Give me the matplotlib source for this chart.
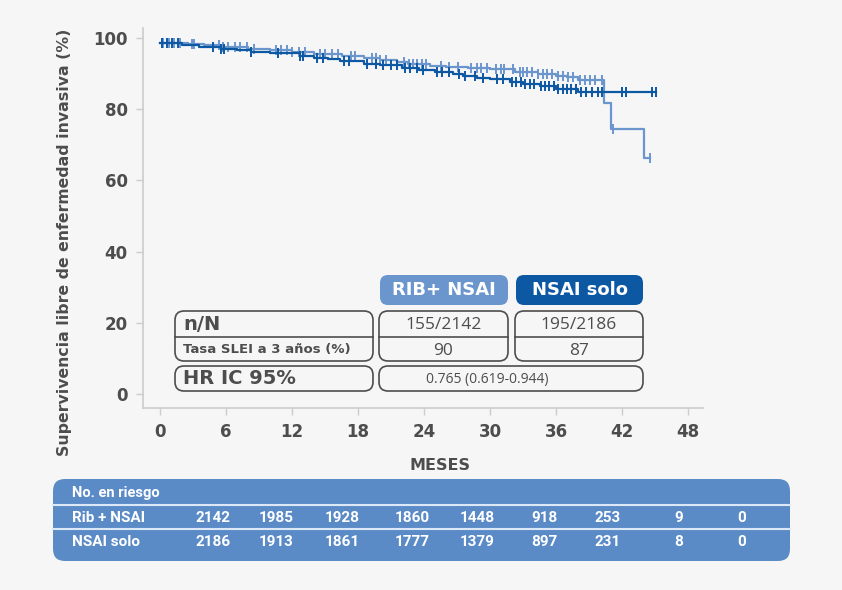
import matplotlib
matplotlib.use("Agg")
import matplotlib.pyplot as plt
from matplotlib.patches import FancyBboxPatch
import numpy as np

# Kaplan-Meier steps (months, % free of invasive disease)
rib_times = [0, 2.5, 4, 5.5, 8, 10, 12, 14, 16.5, 18.5, 20, 21.5, 22.5, 24.5, 26, 28, 30,
             32.3, 34.4, 36, 37, 38, 40.4, 41.0, 44.0, 44.5]
rib_surv = [98.7, 98.2, 97.9, 97.5, 97.0, 96.5, 96.1, 95.4, 94.8, 94.3, 93.9, 93.3, 92.8,
            92.2, 91.8, 91.5, 91.2, 90.5, 89.8, 89.2, 88.9, 88.3, 81.7, 74.4, 66.3, 66.3]
nsai_times = [0, 2.0, 3.5, 5.5, 7, 8.3, 10, 12.7, 14, 15.3, 16.4, 18.5, 20, 22, 23.5, 25,
              26.6, 27.5, 28.8, 30, 31.8, 33, 34.5, 36, 38, 45.1]
nsai_surv = [98.5, 97.9, 97.5, 96.9, 96.5, 96.1, 95.8, 95.0, 94.5, 94.0, 93.6, 92.8, 92.3,
             91.5, 91.0, 90.5, 89.9, 89.4, 88.8, 88.4, 87.7, 87.2, 86.4, 85.8, 84.8, 84.8]

rib_cens = [0.3, 0.8, 1.3, 1.8, 2.9, 3.1, 5.4, 5.7, 6.2, 6.8, 7.3, 7.9, 8.5, 10.5, 11.0, 11.5,
            12.0, 12.6, 13.2, 14.5, 15.0, 15.6, 16.2, 17.4, 17.7, 19.3, 19.6, 20.0, 20.5, 22.2,
            22.6, 23.0, 23.4, 23.8, 24.2, 25.5, 26.3, 27.1, 28.3, 28.8, 29.2, 29.7, 30.5, 31.0,
            31.3, 32.1, 32.7, 33.0, 33.4, 33.8, 34.4, 34.8, 35.2, 35.6, 36.2, 36.6, 37.1, 37.5,
            38.2, 38.6, 39.1, 39.5, 40.2, 41.2, 44.5]
nsai_cens = [0.2, 0.6, 1.1, 1.6, 4.8, 5.5, 5.8, 8.3, 10.7, 12.7, 13.0, 14.3, 14.8, 16.7, 17.2,
             18.8, 19.6, 20.3, 21.0, 21.5, 22.3, 22.7, 23.4, 23.9, 25.2, 25.6, 26.3, 27.2, 27.7,
             28.6, 29.4, 30.6, 31.2, 32.0, 32.4, 32.8, 33.2, 33.6, 34.0, 34.6, 35.0, 35.4, 35.8,
             36.2, 36.6, 37.0, 37.4, 37.8, 38.3, 38.7, 39.3, 39.8, 40.2, 42.0, 42.4, 44.7, 45.1]

x_ticks = [0, 6, 12, 18, 24, 30, 36, 42, 48]
y_ticks = [0, 20, 40, 60, 80, 100]

groups = ["RIB+ NSAI", "NSAI solo"]
n_over_N = ["155/2142", "195/2186"]
rate_3y = ["90", "87"]
hr_text = "0.765 (0.619-0.944)"

risk_labels = ["Rib + NSAI", "NSAI solo"]
risk_rib = [2142, 1985, 1928, 1860, 1448, 918, 253, 9, 0]
risk_nsai = [2186, 1913, 1861, 1777, 1379, 897, 231, 8, 0]

light = "#6b96cd"
dark = "#0d58a3"
grey = "#4d4d4d"
bg = "#f6f6f6"
table_blue = "#5b8bc7"

fig = plt.figure(figsize=(8.42, 5.90), dpi=100, facecolor=bg)
W, H = 842, 590

ax = fig.add_axes([143 / W, 1 - 408 / H, 560 / W, 380 / H], facecolor=bg)


def surv_at(t, times, surv):
    i = np.searchsorted(times, t, side="right") - 1
    return surv[max(i, 0)]


for times, surv, cens, col, z in [(rib_times, rib_surv, rib_cens, light, 2),
                                   (nsai_times, nsai_surv, nsai_cens, dark, 3)]:
    ax.step(times, surv, where="post", color=col, lw=1.6, zorder=z)
    cy = [surv_at(c, times, surv) for c in cens]
    ax.plot(cens, cy, ls="none", marker="|", ms=6.5, mew=1.4, color=col, zorder=z)

ax.set_xlim(-1.55, 49.36)
ax.set_ylim(-3.93, 102.8)
ax.set_xticks(x_ticks)
ax.set_yticks(y_ticks)
for s in ["top", "right"]:
    ax.spines[s].set_visible(False)
for s in ["left", "bottom"]:
    ax.spines[s].set_color("#cccccc")
    ax.spines[s].set_linewidth(1.2)
ax.tick_params(colors="#cccccc", length=5, width=1, labelcolor=grey, labelsize=12, pad=6)
for lab in ax.get_xticklabels() + ax.get_yticklabels():
    lab.set_fontweight("bold")

# overlay in pixel coordinates for texts and boxes
ov = fig.add_axes([0, 0, 1, 1], facecolor="none")
ov.set_xlim(0, W)
ov.set_ylim(H, 0)
ov.axis("off")

ov.text(65, 242, "Supervivencia libre de enfermedad invasiva (%)", rotation=90, ha="center",
        va="center", fontsize=11.3, fontweight="bold", color=grey)
ov.text(440, 466, "MESES", ha="center", va="center", fontsize=11.5, fontweight="bold", color=grey)


def box(x0, y0, x1, y1, fc="none", ec=grey, r=9, lw=1.2):
    ov.add_patch(FancyBboxPatch((x0 + r, y0 + r), x1 - x0 - 2 * r, y1 - y0 - 2 * r,
                                boxstyle="round,pad=%d" % r, fc=fc, ec=ec, lw=lw))


col_x = [(380, 508), (516, 643)]
for (x0, x1), name, fc in zip(col_x, groups, [light, dark]):
    box(x0, 275, x1, 305, fc=fc, ec="none", r=8)
    ov.text((x0 + x1) / 2, 290, name, ha="center", va="center", color="white",
            fontsize=13, fontweight="bold")

box(175, 311, 373, 361)
ov.plot([175, 373], [337, 337], color=grey, lw=1.2)
ov.text(183, 325, "n/N", ha="left", va="center", fontsize=14, fontweight="bold", color=grey)
ov.text(183, 350, "Tasa SLEI a 3 años (%)", ha="left", va="center", fontsize=9.5,
        fontweight="bold", color=grey)

for (x0, x1), nn, rr in zip([(379, 508), (515, 643)], n_over_N, rate_3y):
    box(x0, 311, x1, 361)
    ov.plot([x0, x1], [337, 337], color=grey, lw=1.2)
    ov.text((x0 + x1) / 2, 325, nn, ha="center", va="center", fontsize=12.5,
            family="Open Sans", color=grey)
    ov.text((x0 + x1) / 2, 351, rr, ha="center", va="center", fontsize=12.5,
            family="Open Sans", color=grey)

box(175, 366, 373, 391)
ov.text(183, 379, "HR IC 95%", ha="left", va="center", fontsize=14, fontweight="bold", color=grey)
box(379, 366, 643, 391)
ov.text(487, 380, hr_text, ha="center", va="center", fontsize=10, family="Open Sans", color=grey)

# risk table
box(53, 479, 790, 561, fc=table_blue, ec="none", r=12)
for yy in [505, 529]:
    ov.plot([53, 790], [yy, yy], color="#dce8f6", lw=1.5)
ov.text(72, 493, "No. en riesgo", ha="left", va="center", fontsize=10.5, fontweight="bold",
        color="white", family="Roboto")
num_x = [213, 276, 342, 412, 477, 544, 608, 679, 742]
for yy, lab, vals in [(518, risk_labels[0], risk_rib), (542, risk_labels[1], risk_nsai)]:
    ov.text(72, yy, lab, ha="left", va="center", fontsize=11, fontweight="bold",
            color="white", family="Roboto")
    for xx, v in zip(num_x, vals):
        ov.text(xx, yy, str(v), ha="center", va="center", fontsize=11, fontweight="bold",
                color="white", family="Roboto")

fig.savefig("out.png", dpi=100, facecolor=bg)
